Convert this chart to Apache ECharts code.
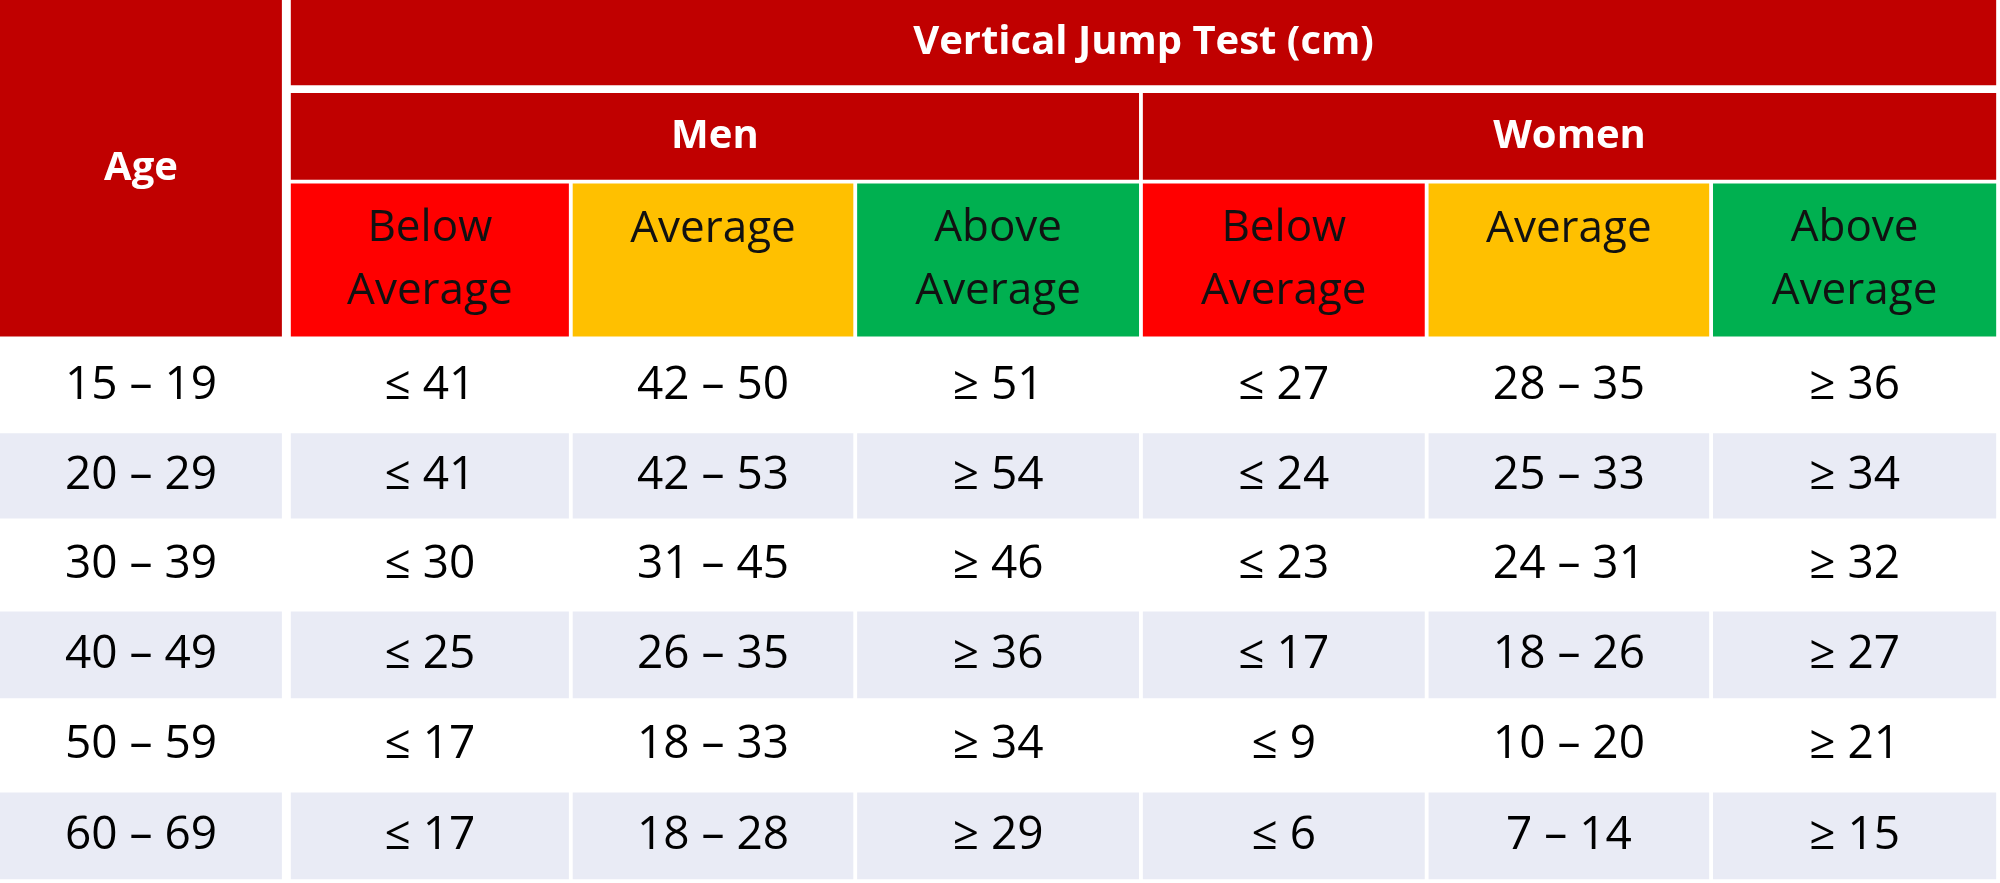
<!DOCTYPE html>
<html><head><meta charset="utf-8">
<script src="https://cdn.jsdelivr.net/npm/echarts@6/dist/echarts.min.js"></script>
<style>html,body{margin:0;padding:0;background:#fff}#c{width:2000px;height:883px}</style>
</head><body><div id="c"></div>
<script>
const title = "Vertical Jump Test (cm)";
const ageHeader = "Age";
const groups = ["Men", "Women"];
const levels = ["Below\nAverage", "Average", "Above\nAverage"];
const ages = ["15 – 19","20 – 29","30 – 39","40 – 49","50 – 59","60 – 69"];
const menBelow = ["≤ 41","≤ 41","≤ 30","≤ 25","≤ 17","≤ 17"];
const menAverage = ["42 – 50","42 – 53","31 – 45","26 – 35","18 – 33","18 – 28"];
const menAbove = ["≥ 51","≥ 54","≥ 46","≥ 36","≥ 34","≥ 29"];
const womenBelow = ["≤ 27","≤ 24","≤ 23","≤ 17","≤ 9","≤ 6"];
const womenAverage = ["28 – 35","25 – 33","24 – 31","18 – 26","10 – 20","7 – 14"];
const womenAbove = ["≥ 36","≥ 34","≥ 32","≥ 27","≥ 21","≥ 15"];

// layout (reference units, 1568 x 693)
const colEdges = [[0,221],[228,446],[449,669],[672,893],[896,1117],[1120,1340],[1343,1565]];
const hdrRows = [[0,67],[73,141],[144,264]];
const dataRows = [[268,337],[340,407],[410,477],[480,548],[551,619],[622,690]];
const DARK = "#c00000", levelFills = ["#ff0000","#ffc000","#00b050"];

const cells = [];
function add(x0,x1,y0,y1,fill,text,color,size,bold){cells.push({value:[x0,y0,x1,y1],fill,text,color,size,bold});}
add(0,221,0,264,DARK,ageHeader,"#fff",40,true);
add(228,1565,0,67,DARK,title,"#fff",40,true);
add(228,893,73,141,DARK,groups[0],"#fff",40,true);
add(896,1565,73,141,DARK,groups[1],"#fff",40,true);
for(let g=0;g<2;g++)for(let l=0;l<3;l++){const c=colEdges[1+g*3+l];add(c[0],c[1],144,264,levelFills[l],levels[l],"#111",44,false);}
const cols=[ages,menBelow,menAverage,menAbove,womenBelow,womenAverage,womenAbove];
dataRows.forEach((r,i)=>{cols.forEach((arr,j)=>{const c=colEdges[j];add(c[0],c[1],r[0],r[1],i%2?"#e9ebf5":"#ffffff",arr[i],"#000",46,false);});});

const chart=echarts.init(document.getElementById('c'));
chart.setOption({
  animation:false,
  grid:{left:0,right:0,top:0,bottom:0},
  xAxis:{type:'value',min:0,max:1568,show:false},
  yAxis:{type:'value',min:0,max:693,inverse:true,show:false},
  series:[{type:'custom',data:cells,
    renderItem:(params,api)=>{
      const d=cells[params.dataIndex];
      const p0=api.coord([api.value(0),api.value(1)]);
      const p1=api.coord([api.value(2),api.value(3)]);
      const w=p1[0]-p0[0],h=p1[1]-p0[1];
      let ty=p0[1]+h/2;
      if(d.size===44 && d.text.indexOf("\n")<0) ty=p0[1]+h*0.3;
      return {type:'group',children:[
        {type:'rect',shape:{x:p0[0],y:p0[1],width:w,height:h},style:{fill:d.fill}},
        {type:'text',style:{text:d.text,x:p0[0]+w/2,y:ty,align:'center',verticalAlign:'middle',
          fill:d.color,font:(d.bold?'bold ':'')+d.size+'px "Open Sans", Lato, sans-serif',lineHeight:d.size*1.45}}
      ]};
    }}]
});
</script></body></html>
